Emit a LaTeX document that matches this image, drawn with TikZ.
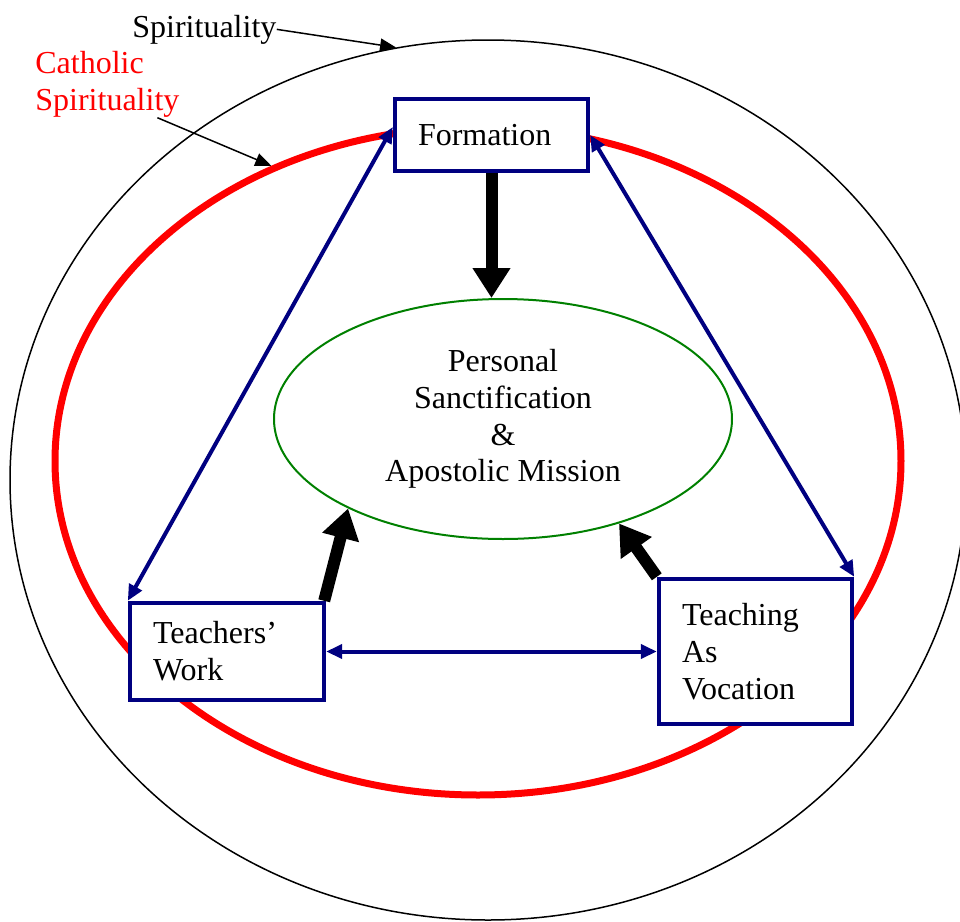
\documentclass[tikz,border=0pt]{standalone}
\usepackage{fontspec}
\setmainfont{Liberation Serif}
\usetikzlibrary{arrows.meta,shapes.geometric}
\definecolor{boxblue}{RGB}{0,0,128}
\definecolor{ringred}{RGB}{255,0,0}
\definecolor{centregreen}{RGB}{0,128,0}
\begin{document}
\begin{tikzpicture}[x=0.5pt,y=-0.5pt,
      font=\fontsize{16}{18.4}\selectfont,
      ring/.style={ellipse,draw,inner sep=0pt},
      topic/.style={draw=boxblue,fill=white,line width=2.2pt,align=left,
                    inner xsep=11.5pt,inner ysep=0pt},
      link/.style={boxblue,line width=2pt,
                   {Triangle[length=8pt,width=7pt]}-{Triangle[length=8pt,width=7pt]}},
      feed/.style={line width=6pt,-{Triangle[length=15pt,width=18pt]}},
      pointer/.style={line width=0.75pt,-{Triangle[length=8pt,width=6.5pt]}}]

    \useasboundingbox (0,0) rectangle (960,922);
    \clip (0,0) rectangle (960,922);

    % --- Rings: spirituality, catholic spirituality, and the centre -----------
    \node[ring,line width=0.75pt,minimum width=478pt,minimum height=440pt]
      (spirit) at (488,480) {};
    \node[ring,draw=ringred,line width=3.5pt,minimum width=423pt,minimum height=334pt]
      (catholic) at (478,461) {};
    \node[ring,draw=centregreen,line width=1pt,minimum width=229pt,
          minimum height=120pt,align=center] (centre) at (503,419)
      {Personal\\Sanctification\\\&\\Apostolic Mission};

    % --- Labels for the two outer rings ---------------------------------------
    \node[anchor=base west,inner sep=0pt] (spirlabel) at (132,37) {Spirituality};
    \node[anchor=north west,inner sep=0pt,align=left,text=ringred]
      (cathlabel) at (35,51) {Catholic\\Spirituality};

    % --- The three boxes of the triangle --------------------------------------
    \node[topic,text width=73.5pt,minimum height=36pt] (form) at (491.5,135)
      {Formation};
    \node[topic,text width=74pt,minimum height=48.5pt] (work) at (227,651.5)
      {Teachers’\\Work};
    \node[topic,text width=73.5pt,minimum height=72.5pt] (vocation) at (755.5,651.5)
      {Teaching\\As\\Vocation};

    % --- Arrows ----------------------------------------------------------------
    % Labels point at their ring.
    \draw[pointer] (spirlabel.east) -- (spirit.102.5);
    \draw[pointer] ([xshift=25pt]cathlabel.south) -- (catholic.125);
    % Each box feeds the centre.
    \draw[feed] (form.south) -- (form.south |- centre.north);
    \draw[feed] ([xshift=-1pt]work.north east) -- (centre.210);
    \draw[feed] (vocation.north west) -- (centre.318);
    % The boxes are linked both ways.
    \draw[link] ([yshift=4pt]form.west) -- (work.north west);
    \draw[link] (form.east) -- (vocation.north east);
    \draw[link] (work.east) -- (vocation.west);
  \end{tikzpicture}
\end{document}
